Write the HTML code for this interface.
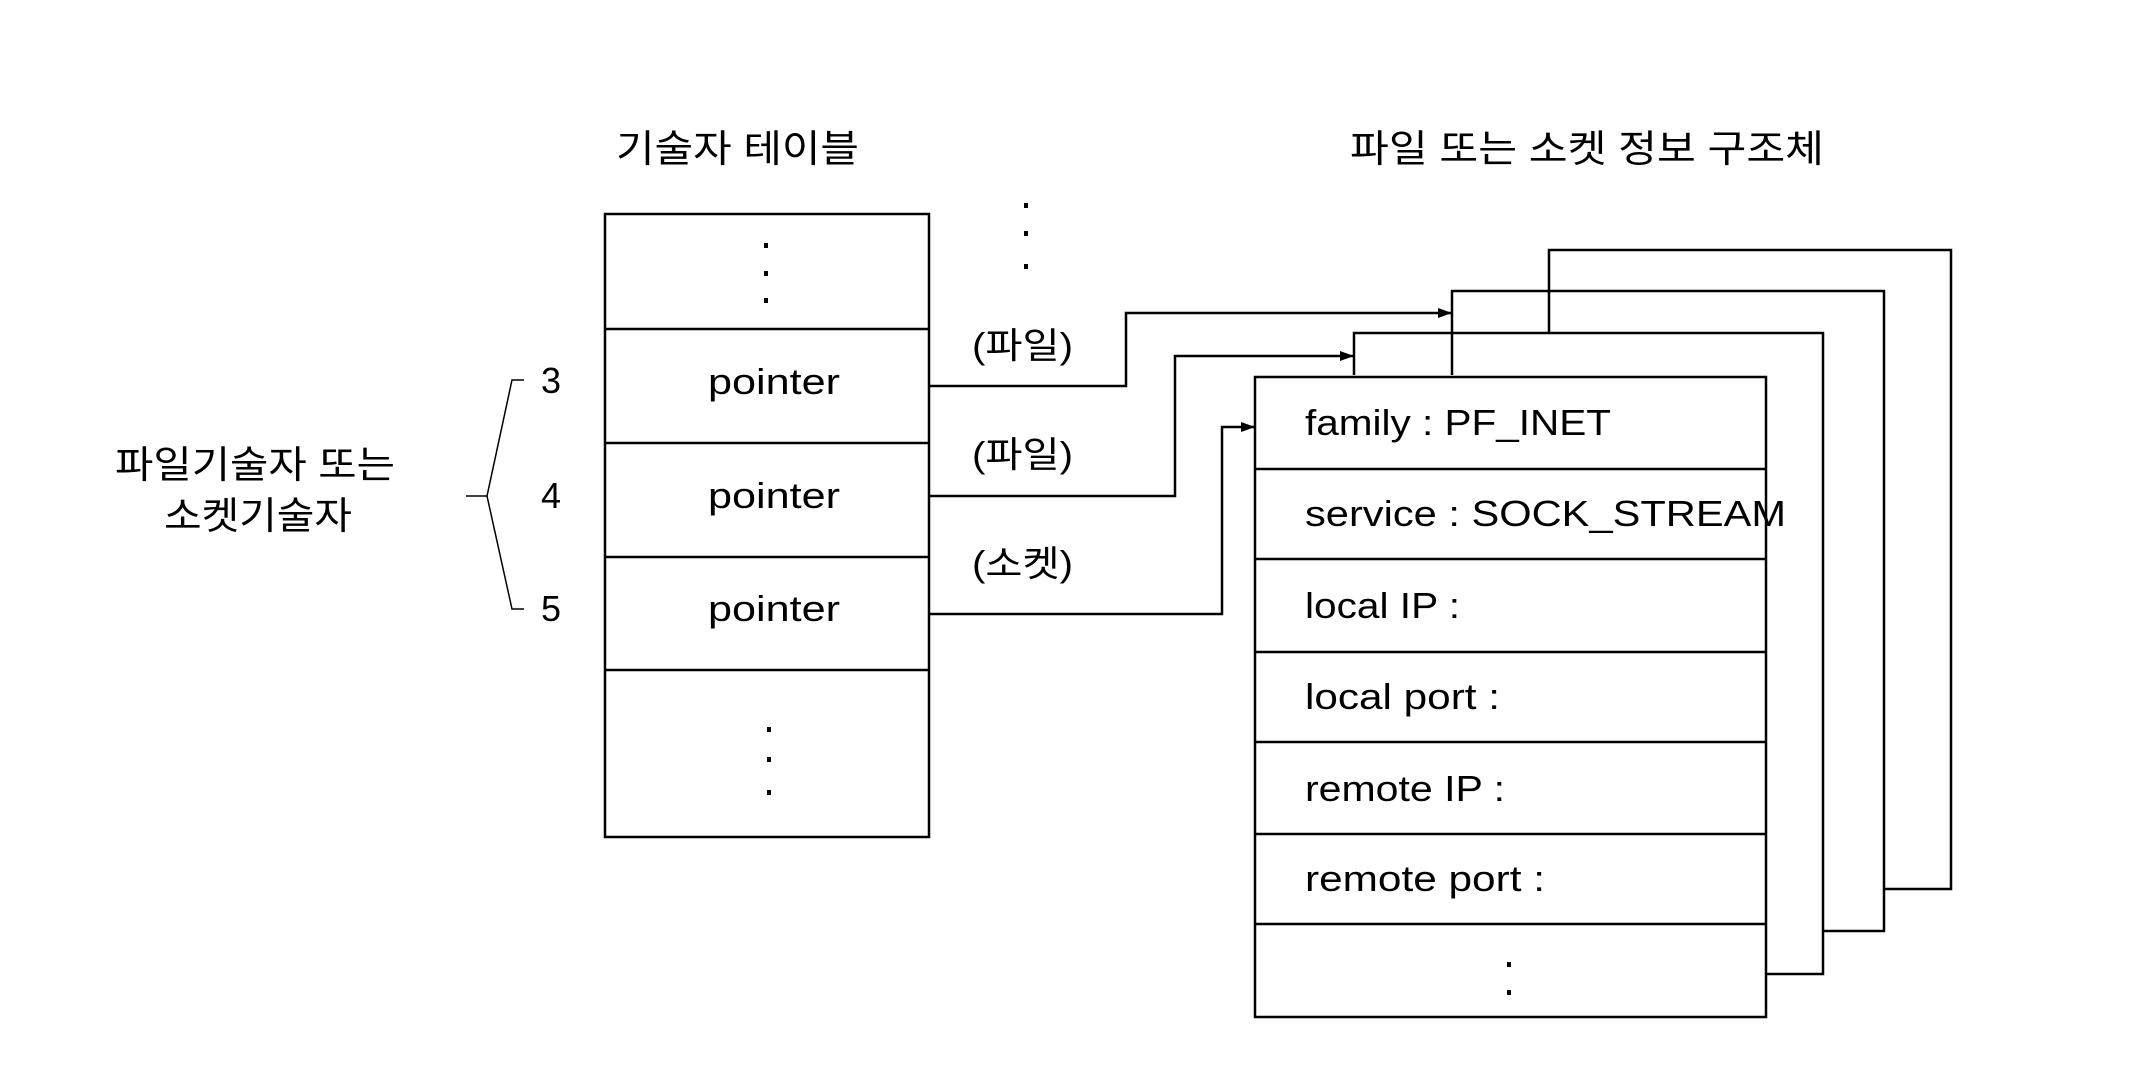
<!DOCTYPE html>
<html><head><meta charset="utf-8"><style>
html,body{margin:0;padding:0;background:#fff;}
svg{display:block;}
text{font-family:"Liberation Sans","Noto Sans CJK KR","NanumGothic",sans-serif;fill:#000;}
</style></head><body>
<svg width="2138" height="1068" viewBox="0 0 2138 1068" xmlns="http://www.w3.org/2000/svg">
<defs><marker id="a" markerWidth="14" markerHeight="10" refX="14" refY="5" orient="auto" markerUnits="userSpaceOnUse"><path d="M0,0 L0,10 L14,5 z" fill="#000"/></marker></defs>
<g font-size="38">
<text x="616" y="162" textLength="243" lengthAdjust="spacingAndGlyphs">기술자 테이블</text>
<text x="1350" y="162" textLength="474" lengthAdjust="spacingAndGlyphs">파일 또는 소켓 정보 구조체</text>
<text x="115" y="478" textLength="280" lengthAdjust="spacingAndGlyphs">파일기술자 또는</text>
<text x="164" y="529" textLength="188" lengthAdjust="spacingAndGlyphs">소켓기술자</text>
</g>
<g fill="none" stroke="#000" stroke-width="2.5">
<polyline points="1549,333 1549,250 1951,250 1951,889 1884,889"/>
<polyline points="1452,375 1452,291 1884,291 1884,931 1823,931"/>
<polyline points="1354,375 1354,333 1823,333 1823,974 1766,974"/>
<rect x="1255" y="377" width="511" height="640" fill="#fff"/>
<path d="M1255,469H1766M1255,559H1766M1255,652H1766M1255,742H1766M1255,834H1766M1255,924H1766"/>
<rect x="605" y="214" width="324" height="623"/>
<path d="M605,329H929M605,443H929M605,557H929M605,670H929"/>
<polyline points="929,386 1126,386 1126,313 1452,313" marker-end="url(#a)"/>
<polyline points="929,496 1175,496 1175,356 1354,356" marker-end="url(#a)"/>
<polyline points="929,614 1222,614 1222,427 1255,427" marker-end="url(#a)"/>
</g>
<g fill="none" stroke="#000" stroke-width="1.5">
<polyline points="524,380 512,380 487,496 466,496"/>
<polyline points="487,496 512,609 524,609"/>
</g>
<g font-size="36">
<text x="541" y="393">3</text><text x="541" y="508">4</text><text x="541" y="621">5</text>
<text x="708" y="394" textLength="132" lengthAdjust="spacingAndGlyphs">pointer</text>
<text x="708" y="508" textLength="132" lengthAdjust="spacingAndGlyphs">pointer</text>
<text x="708" y="621" textLength="132" lengthAdjust="spacingAndGlyphs">pointer</text>
<text x="972" y="358" textLength="101" lengthAdjust="spacingAndGlyphs">(파일)</text>
<text x="972" y="467" textLength="101" lengthAdjust="spacingAndGlyphs">(파일)</text>
<text x="972" y="576" textLength="101" lengthAdjust="spacingAndGlyphs">(소켓)</text>
<text x="1305" y="435" textLength="306" lengthAdjust="spacingAndGlyphs">family : PF_INET</text>
<text x="1305" y="526" textLength="481" lengthAdjust="spacingAndGlyphs">service : SOCK_STREAM</text>
<text x="1305" y="618" textLength="155" lengthAdjust="spacingAndGlyphs">local IP :</text>
<text x="1305" y="709" textLength="195" lengthAdjust="spacingAndGlyphs">local port :</text>
<text x="1305" y="801" textLength="200" lengthAdjust="spacingAndGlyphs">remote IP :</text>
<text x="1305" y="891" textLength="240" lengthAdjust="spacingAndGlyphs">remote port :</text>
</g>
<g fill="#000">
<rect x="764" y="243" width="4" height="5"/><rect x="764" y="271" width="4" height="5"/><rect x="764" y="298" width="4" height="5"/>
<rect x="767" y="727" width="4" height="5"/><rect x="767" y="757" width="4" height="5"/><rect x="767" y="790" width="4" height="5"/>
<rect x="1024" y="203" width="4" height="5"/><rect x="1024" y="231" width="4" height="5"/><rect x="1024" y="264" width="4" height="5"/>
<rect x="1507" y="962" width="4" height="5"/><rect x="1507" y="990" width="4" height="5"/>
</g>
</svg>
</body></html>
